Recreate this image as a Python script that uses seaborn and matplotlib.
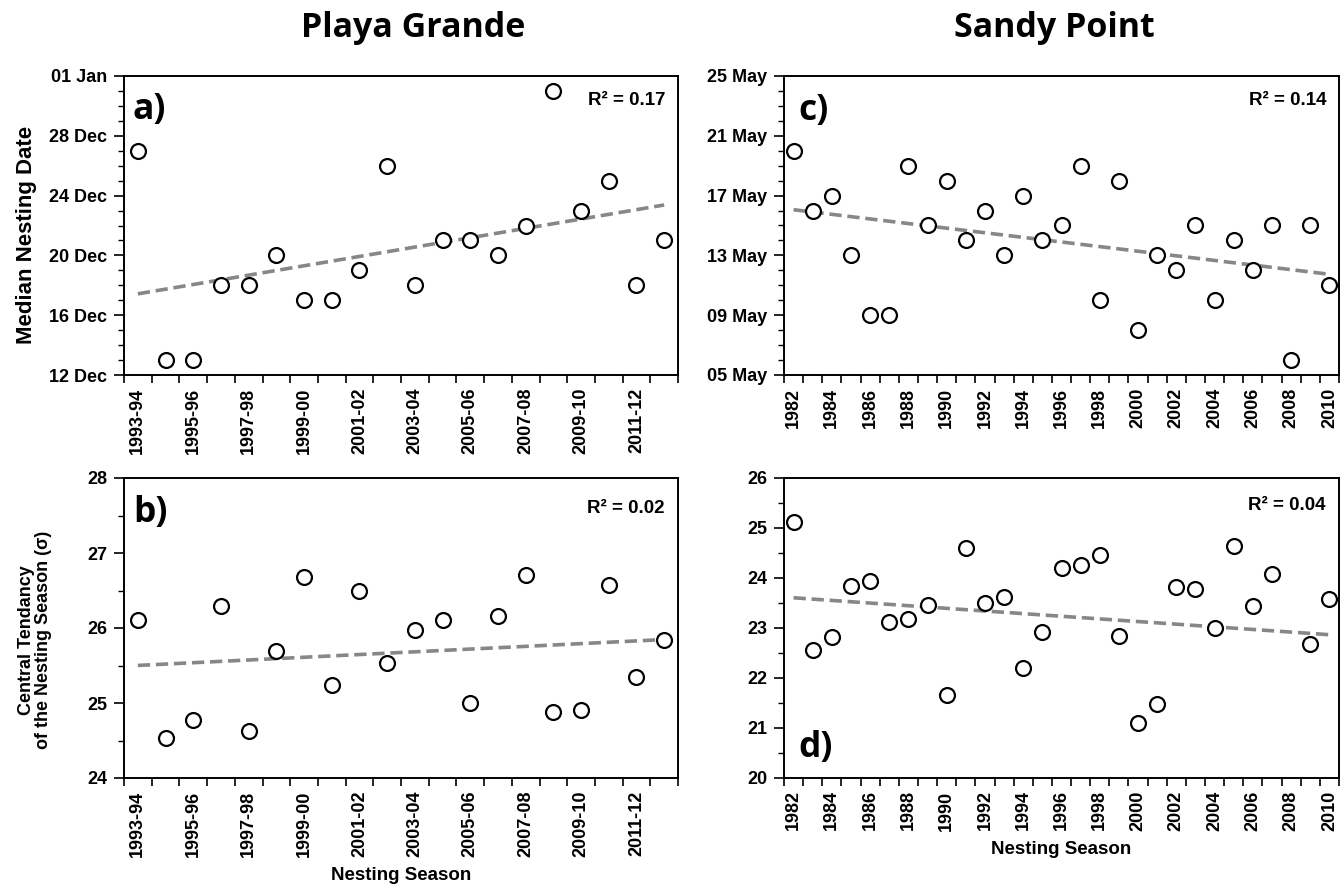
import numpy as np
import pandas as pd
import matplotlib
matplotlib.use("Agg")
import matplotlib.pyplot as plt
import matplotlib.dates as mdates
from matplotlib.ticker import FixedLocator, MultipleLocator, NullFormatter
import seaborn as sns

# ---------------- data ----------------
seasons_pg = ["1993-94", "1994-95", "1995-96", "1996-97", "1997-98", "1998-99",
              "1999-00", "2000-01", "2001-02", "2002-03", "2003-04", "2004-05",
              "2005-06", "2006-07", "2007-08", "2008-09", "2009-10", "2010-11",
              "2011-12", "2012-13"]
median_date_pg = ["27 Dec", "13 Dec", "13 Dec", "18 Dec", "18 Dec", "20 Dec",
                  "17 Dec", "17 Dec", "19 Dec", "26 Dec", "18 Dec", "21 Dec",
                  "21 Dec", "20 Dec", "22 Dec", "31 Dec", "23 Dec", "25 Dec",
                  "18 Dec", "21 Dec"]
sigma_pg = [26.11, 24.53, 24.77, 26.29, 24.63, 25.70, 26.68, 25.24, 26.49, 25.53,
            25.97, 26.11, 25.00, 26.16, 26.71, 24.88, 24.91, 26.57, 25.35, 25.84]

years_sp = ["1982", "1983", "1984", "1985", "1986", "1987", "1988", "1989", "1990",
            "1991", "1992", "1993", "1994", "1995", "1996", "1997", "1998", "1999",
            "2000", "2001", "2002", "2003", "2004", "2005", "2006", "2007", "2008",
            "2009", "2010"]
median_date_sp = ["20 May", "16 May", "17 May", "13 May", "09 May", "09 May",
                  "19 May", "15 May", "18 May", "14 May", "16 May", "13 May",
                  "17 May", "14 May", "15 May", "19 May", "10 May", "18 May",
                  "08 May", "13 May", "12 May", "15 May", "10 May", "14 May",
                  "12 May", "15 May", "06 May", "15 May", "11 May"]
# the 2008 value lies below the plotted range (20-26) and is clipped by the axes
sigma_sp = [25.13, 22.56, 22.83, 23.85, 23.94, 23.13, 23.19, 23.47, 21.66, 24.61,
            23.50, 23.63, 22.20, 22.93, 24.20, 24.26, 24.46, 22.85, 21.10, 21.49,
            23.83, 23.79, 23.00, 24.64, 23.45, 24.09, 19.74, 22.69, 23.59]

ticks_date_pg = ["12 Dec", "16 Dec", "20 Dec", "24 Dec", "28 Dec", "01 Jan"]
ticks_date_sp = ["05 May", "09 May", "13 May", "17 May", "21 May", "25 May"]
r2_labels = ["0.17", "0.02", "0.14", "0.04"]
site_titles = ["Playa Grande", "Sandy Point"]


def to_datenum(labels, year_for_dec=2000):
    """Turn 'dd Mon' strings into matplotlib date numbers (Jan rolls into the next year)."""
    out = []
    for s in labels:
        yr = year_for_dec + 1 if s.endswith("Jan") else year_for_dec
        out.append(mdates.date2num(pd.to_datetime(f"{s} {yr}", format="%d %b %Y")))
    return np.array(out)


# ---------------- style ----------------
sns.set_style("ticks")
plt.rcParams["font.family"] = ["Liberation Sans", "DejaVu Sans"]
plt.rcParams["font.weight"] = "bold"
plt.rcParams["axes.labelweight"] = "bold"
for key in ("text.color", "axes.labelcolor", "xtick.color", "ytick.color",
            "axes.edgecolor"):
    plt.rcParams[key] = "black"

TICK_FS = 13
LINE_COLOR = "#878787"
DASH = (0, (3.4, 1.6))

fig = plt.figure(figsize=(13.43, 8.90), dpi=100)
W, H = 1343.0, 890.0
ax_a = fig.add_axes([124 / W, 1 - 375 / H, 554 / W, 299 / H])
ax_c = fig.add_axes([784 / W, 1 - 375 / H, 555 / W, 299 / H])
ax_b = fig.add_axes([124 / W, 1 - 778 / H, 554 / W, 300 / H])
ax_d = fig.add_axes([784 / W, 1 - 778 / H, 555 / W, 300 / H])


def draw_panel(ax, cats, values):
    pos = np.arange(len(cats), dtype=float)
    vals = np.asarray(values, dtype=float)
    sns.regplot(x=pos, y=vals, ax=ax, scatter=False, ci=None, truncate=True,
                line_kws=dict(color=LINE_COLOR, lw=2.6, linestyle=DASH, zorder=2))
    sns.scatterplot(x=pos, y=vals, ax=ax, marker="o", s=115, facecolor="white",
                    edgecolor="black", linewidth=1.6, zorder=3, legend=False)
    # category axis: labels on every other season, tick marks between seasons
    ax.set_xlim(-0.5, len(cats) - 0.5)
    ax.xaxis.set_major_locator(FixedLocator(pos[::2]))
    ax.set_xticklabels(cats[::2], rotation=90, fontsize=TICK_FS, fontweight="bold")
    ax.xaxis.set_minor_locator(FixedLocator(np.arange(-0.5, len(cats), 1.0)))
    ax.tick_params(axis="x", which="major", length=0, pad=9)
    ax.tick_params(axis="x", which="minor", length=6, width=1.2, color="black",
                   direction="out")
    ax.tick_params(axis="y", which="major", length=7, width=1.2, color="black",
                   direction="out", pad=5, labelsize=TICK_FS)
    ax.tick_params(axis="y", which="minor", length=4, width=1.0, color="black",
                   direction="out")
    for sp in ax.spines.values():
        sp.set_visible(True)
        sp.set_linewidth(1.4)
        sp.set_color("black")
    ax.set_xlabel("")
    ax.set_ylabel("")


# a) Playa Grande median nesting date
y_a = to_datenum(median_date_pg)
draw_panel(ax_a, seasons_pg, y_a)
t_a = to_datenum(ticks_date_pg)
ax_a.set_ylim(t_a[0], t_a[-1])
ax_a.yaxis.set_major_locator(FixedLocator(t_a))
ax_a.yaxis.set_major_formatter(mdates.DateFormatter("%d %b"))
ax_a.yaxis.set_minor_locator(MultipleLocator(1))
ax_a.yaxis.set_minor_formatter(NullFormatter())

# c) Sandy Point median nesting date
y_c = to_datenum(median_date_sp)
draw_panel(ax_c, years_sp, y_c)
t_c = to_datenum(ticks_date_sp)
ax_c.set_ylim(t_c[0], t_c[-1])
ax_c.yaxis.set_major_locator(FixedLocator(t_c))
ax_c.yaxis.set_major_formatter(mdates.DateFormatter("%d %b"))
ax_c.yaxis.set_minor_locator(MultipleLocator(1))
ax_c.yaxis.set_minor_formatter(NullFormatter())

# b) Playa Grande spread of the season
draw_panel(ax_b, seasons_pg, sigma_pg)
ax_b.set_ylim(24, 28)
ax_b.yaxis.set_major_locator(MultipleLocator(1))
ax_b.yaxis.set_minor_locator(MultipleLocator(0.5))

# d) Sandy Point spread of the season
draw_panel(ax_d, years_sp, sigma_sp)
ax_d.set_ylim(20, 26)
ax_d.yaxis.set_major_locator(MultipleLocator(1))
ax_d.yaxis.set_minor_locator(MultipleLocator(0.5))

for ax in (ax_a, ax_b, ax_c, ax_d):
    for lab in ax.get_yticklabels():
        lab.set_fontweight("bold")
        lab.set_fontsize(TICK_FS)

# R² annotations
r2_pos = {ax_a: (0.978, 0.903), ax_b: (0.976, 0.883),
          ax_c: (0.978, 0.903), ax_d: (0.975, 0.893)}
for ax, r2 in zip((ax_a, ax_b, ax_c, ax_d), r2_labels):
    x, y = r2_pos[ax]
    ax.text(x, y, f"R\u00b2 = {r2}", transform=ax.transAxes, ha="right",
            va="baseline", fontsize=13.5, fontweight="bold")

# panel letters
letter_font = dict(family=["Open Sans", "DejaVu Sans"], fontsize=25.5,
                   fontweight="bold", va="baseline", ha="left")
ax_a.text(0.016, 0.856, "a)", transform=ax_a.transAxes, **letter_font)
ax_b.text(0.016, 0.854, "b)", transform=ax_b.transAxes, **letter_font)
ax_c.text(0.026, 0.853, "c)", transform=ax_c.transAxes, **letter_font)
ax_d.text(0.026, 0.070, "d)", transform=ax_d.transAxes, **letter_font)

# axis labels
ax_a.set_ylabel("Median Nesting Date", fontsize=16, fontweight="bold")
ax_a.yaxis.set_label_coords(-0.157, 0.47)
ax_b.set_ylabel("Central Tendancy\nof the Nesting Season (\u03c3)", fontsize=13,
                fontweight="bold", linespacing=1.0)
ax_b.yaxis.set_label_coords(-0.130, 0.46)
ax_b.set_xlabel("Nesting Season", fontsize=13.5, fontweight="bold", labelpad=7)
ax_d.set_xlabel("Nesting Season", fontsize=13.5, fontweight="bold", labelpad=7)

# site titles
title_font = dict(family=["Open Sans", "DejaVu Sans"], fontsize=24.5,
                  fontweight="bold", ha="center", va="baseline")
fig.text(413 / W, 1 - 37 / H, site_titles[0], **title_font)
fig.text(1054 / W, 1 - 37 / H, site_titles[1], **title_font)

fig.savefig("out.png", dpi=100, facecolor="white")
